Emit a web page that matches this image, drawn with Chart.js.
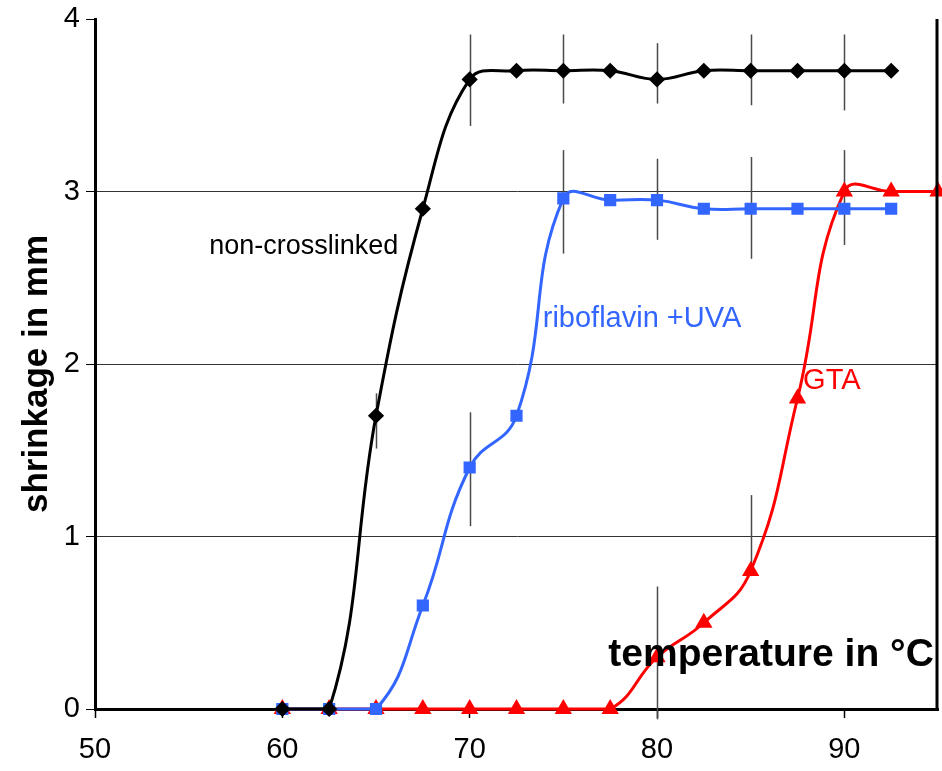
<!DOCTYPE html>
<html>
<head>
<meta charset="utf-8">
<script src="https://cdn.jsdelivr.net/npm/chart.js@4.4.1/dist/chart.umd.min.js"></script>
<style>
  html, body { margin: 0; padding: 0; background: #fff; }
  #wrap { width: 942px; height: 771px; }
</style>
</head>
<body>
<div id="wrap"><canvas id="shrinkChart" width="942" height="771"></canvas></div>
<script>
const temps = [60, 62.5, 65, 67.5, 70, 72.5, 75, 77.5, 80, 82.5, 85, 87.5, 90, 92.5];
const tempsGta = [60, 62.5, 65, 67.5, 70, 72.5, 75, 77.5, 80, 82.5, 85, 87.5, 90, 92.5, 95];
const nonCrosslinked = [0, 0, 1.7, 2.9, 3.65, 3.7, 3.7, 3.7, 3.65, 3.7, 3.7, 3.7, 3.7, 3.7];
const riboflavin = [0, 0, 0, 0.6, 1.4, 1.7, 2.96, 2.95, 2.95, 2.9, 2.9, 2.9, 2.9, 2.9];
const gta = [0, 0, 0, 0, 0, 0, 0, 0, 0.3, 0.5, 0.8, 1.8, 3.0, 3.0, 3.0];

// error bars: [temperature, low, high]
const nonCrosslinkedErr = [[65, 1.51, 1.83], [70, 3.38, 3.91], [75, 3.51, 3.91], [80, 3.51, 3.86], [85, 3.5, 3.91], [90, 3.47, 3.91]];
const riboflavinErr = [[70, 1.06, 1.72], [75, 2.64, 3.24], [80, 2.72, 3.19], [85, 2.61, 3.2], [90, 2.69, 3.24]];
const gtaErr = [[80, -0.06, 0.71], [85, 0.77, 1.24]];

const xTicks = [50, 60, 70, 80, 90];
const yTicks = [0, 1, 2, 3, 4];

// curve labels: [text, x, y, color, size]
const curveLabels = [
    ["non-crosslinked", 56.1, 2.68, "#000000", 27],
    ["riboflavin +UVA", 73.9, 2.26, "#3366ff", 29],
    ["GTA", 87.8, 1.9, "#ff0000", 29]
];

function toPoints(xs, ys) {
    return xs.map((x, i) => ({ x: x, y: ys[i] }));
}

const FONT = "'Liberation Sans', Arial, sans-serif";

const errorBars = {
    id: "errorBars",
    beforeDatasetsDraw(chart) {
        const ctx = chart.ctx;
        const xs = chart.scales.x;
        const ys = chart.scales.y;
        ctx.save();
        ctx.strokeStyle = "#4a4a4a";
        ctx.lineWidth = 1.5;
        [nonCrosslinkedErr, riboflavinErr, gtaErr].forEach(list => {
            list.forEach(e => {
                const px = Math.round(xs.getPixelForValue(e[0])) + 0.5;
                ctx.beginPath();
                ctx.moveTo(px, ys.getPixelForValue(e[1]));
                ctx.lineTo(px, ys.getPixelForValue(e[2]));
                ctx.stroke();
            });
        });
        ctx.restore();
    },
    afterDraw(chart) {
        const ctx = chart.ctx;
        const a = chart.chartArea;
        const xs = chart.scales.x;
        const ys = chart.scales.y;
        ctx.save();
        ctx.strokeStyle = "#000";
        ctx.lineWidth = 3;
        ctx.beginPath();
        ctx.moveTo(a.right - 1, a.top);
        ctx.lineTo(a.right - 1, a.bottom);
        ctx.stroke();
        ctx.textBaseline = "middle";
        curveLabels.forEach(l => {
            ctx.fillStyle = l[3];
            ctx.font = l[4] + "px " + FONT;
            ctx.fillText(l[0], xs.getPixelForValue(l[1]), ys.getPixelForValue(l[2]));
        });
        ctx.fillStyle = "#000";
        ctx.font = "bold 39px " + FONT;
        ctx.fillText("temperature in °C", xs.getPixelForValue(77.4), ys.getPixelForValue(0.31));
        // y axis title
        ctx.translate(37, (a.top + a.bottom) / 2 + 10);
        ctx.rotate(-Math.PI / 2);
        ctx.textAlign = "center";
        ctx.font = "bold 35px " + FONT;
        ctx.fillText("shrinkage in mm", 0, 0);
        ctx.restore();
    }
};

const ctx = document.getElementById("shrinkChart").getContext("2d");
new Chart(ctx, {
    type: "line",
    data: {
        datasets: [
            {
                label: "non-crosslinked",
                data: toPoints(temps, nonCrosslinked),
                borderColor: "#000000",
                backgroundColor: "#000000",
                borderWidth: 3,
                pointStyle: "rectRot",
                pointRadius: 6,
                tension: 0.4,
                clip: false
            },
            {
                label: "riboflavin +UVA",
                data: toPoints(temps, riboflavin),
                borderColor: "#3366ff",
                backgroundColor: "#3366ff",
                borderWidth: 3,
                pointStyle: "rect",
                pointRadius: 6.5,
                tension: 0.45,
                clip: false
            },
            {
                label: "GTA",
                data: toPoints(tempsGta, gta),
                borderColor: "#ff0000",
                backgroundColor: "#ff0000",
                borderWidth: 3,
                pointStyle: "triangle",
                pointRadius: 7,
                tension: 0.45,
                clip: false
            }
        ]
    },
    options: {
        responsive: false,
        animation: false,
        layout: { autoPadding: false, padding: { top: 19, right: 4, left: 0, bottom: 0 } },
        plugins: {
            legend: { display: false },
            tooltip: { enabled: false }
        },
        scales: {
            x: {
                type: "linear",
                min: 50,
                max: 95,
                afterBuildTicks: s => { s.ticks = xTicks.map(v => ({ value: v })); },
                afterFit: s => { s.height = 62; s.paddingRight = 0; s.paddingLeft = 0; },
                ticks: {
                    color: "#000",
                    font: { family: FONT, size: 29 },
                    padding: 15
                },
                grid: { drawOnChartArea: false, tickLength: 9, tickColor: "#000", tickWidth: 1.5 },
                border: { color: "#000", width: 3 }
            },
            y: {
                min: 0,
                max: 4,
                afterBuildTicks: s => { s.ticks = yTicks.map(v => ({ value: v })); },
                afterFit: s => { s.width = 95; s.paddingTop = 0; s.paddingBottom = 0; },
                ticks: {
                    color: "#000",
                    font: { family: FONT, size: 29 },
                    padding: 6
                },
                grid: {
                    color: c => (c.tick.value === 0 || c.tick.value === 4) ? "rgba(0,0,0,0)" : "#333",
                    lineWidth: 1,
                    tickLength: 9,
                    tickColor: "#000"
                },
                border: { color: "#000", width: 3 }
            }
        }
    },
    plugins: [errorBars]
});
</script>
</body>
</html>
